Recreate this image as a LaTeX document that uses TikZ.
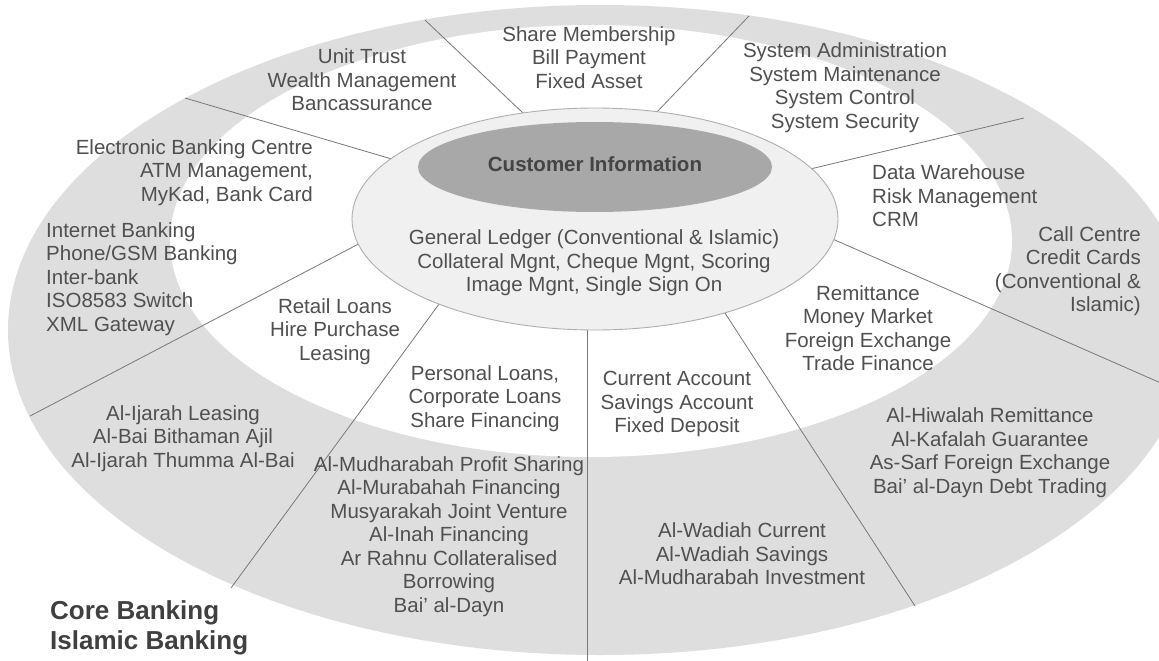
\documentclass[tikz,border=0pt]{standalone}
\usepackage{fontspec}
\setmainfont{Liberation Sans}
\definecolor{ringgray}{RGB}{222,222,222}
\definecolor{coregray}{RGB}{240,240,240}
\definecolor{rimgray}{RGB}{175,175,175}
\definecolor{custgray}{RGB}{168,168,168}
\definecolor{txtgray}{RGB}{80,80,80}
\definecolor{linegray}{RGB}{120,120,120}
\begin{document}
\begin{tikzpicture}[x=1pt,y=-1pt,
  lbl/.style={inner sep=0pt, text=txtgray, font=\fontsize{20.5}{23.5}\selectfont, align=center},
  lblleft/.style={lbl, align=left, anchor=west},
  lblright/.style={lbl, align=right, anchor=east},
  title/.style={inner sep=0pt, text=txtgray!80!black, font=\bfseries\fontsize{26}{30}\selectfont, align=left, anchor=west},
  divider/.style={draw=linegray, line width=0.8pt}]
\useasboundingbox (0,0) rectangle (1159,661);
\fill[white] (0,0) rectangle (1159,661);

% outer ring and the white field inside it
\fill[ringgray] (600,330) ellipse [x radius=592pt, y radius=325pt];
\fill[white] (591,241) ellipse [x radius=421pt, y radius=216pt];

% end points of the sector dividers
\coordinate (d1o) at (425,20);   \coordinate (d1i) at (524,114);
\coordinate (d2o) at (749,16);   \coordinate (d2i) at (655,114);
\coordinate (d3o) at (1024,118); \coordinate (d3i) at (806,170);
\coordinate (d4o) at (185,98);   \coordinate (d4i) at (395,160);
\coordinate (d5o) at (30,416);   \coordinate (d5i) at (370,238);
\coordinate (d6o) at (231,588);  \coordinate (d6i) at (442,300);
\coordinate (d7o) at (587,661);  \coordinate (d7i) at (587,322);
\coordinate (d8o) at (915,606);  \coordinate (d8i) at (723,310);
\coordinate (d9o) at (1195,398); \coordinate (d9i) at (828,237);

\foreach \k in {1,...,9} \draw[divider] (d\k o) -- (d\k i);

% core system ellipse and the customer information hub
\path[fill=coregray, draw=rimgray, line width=0.9pt] (595,219) ellipse [x radius=243pt, y radius=111pt];
\fill[custgray] (595,167) ellipse [x radius=177pt, y radius=45pt];

\node[inner sep=0pt, text=txtgray!85!black, font=\bfseries\fontsize{20.5}{23.5}\selectfont] (cust) at (595,164) {Customer Information};
\node[lbl] (gl) at (594,263) {General Ledger (Conventional \& Islamic)\\Collateral Mgnt, Cheque Mgnt, Scoring\\Image Mgnt, Single Sign On};

% white field modules
\node[lbl] (unit) at (362,80) {Unit Trust\\Wealth Management\\Bancassurance};
\node[lbl] (share) at (589,57.5) {Share Membership\\Bill Payment\\Fixed Asset};
\node[lbl] (sys) at (845,87.5) {System Administration\\System Maintenance\\System Control\\System Security};
\node[lblright] (ebank) at (313,172.5) {Electronic Banking Centre\\ATM Management,\\MyKad, Bank Card};
\node[lblleft] (inet) at (46,279) {Internet Banking\\Phone/GSM Banking\\Inter-bank\\ISO8583 Switch\\XML Gateway};
\node[lblleft] (dw) at (872,196) {Data Warehouse\\Risk Management\\CRM};
\node[lblright] (call) at (1141,271) {Call Centre\\Credit Cards\\(Conventional \&\\Islamic)};
\node[lbl] (retail) at (335,331.5) {Retail Loans\\Hire Purchase\\Leasing};
\node[lbl] (pers) at (485,398.5) {Personal Loans,\\Corporate Loans\\Share Financing};
\node[lbl] (curr) at (677,404) {Current Account\\Savings Account\\Fixed Deposit};
\node[lbl] (remit) at (868,328) {Remittance\\Money Market\\Foreign Exchange\\Trade Finance};

% islamic banking products in the ring
\node[lbl] (ijarah) at (183,438.5) {Al-Ijarah Leasing\\Al-Bai Bithaman Ajil\\Al-Ijarah Thumma Al-Bai};
\node[lbl] (mudh) at (449,536.5) {Al-Mudharabah Profit Sharing\\Al-Murabahah Financing\\Musyarakah Joint Venture\\Al-Inah Financing\\Ar Rahnu Collateralised\\Borrowing\\Bai' al-Dayn};
\node[lbl] (wadiah) at (742,554) {Al-Wadiah Current\\Al-Wadiah Savings\\Al-Mudharabah Investment};
\node[lbl] (hiwalah) at (990,452.5) {Al-Hiwalah Remittance\\Al-Kafalah Guarantee\\As-Sarf Foreign Exchange\\Bai' al-Dayn Debt Trading};

% legend
\node[title] (legend) at (50,628) {Core Banking\\Islamic Banking};
\end{tikzpicture}
\end{document}
